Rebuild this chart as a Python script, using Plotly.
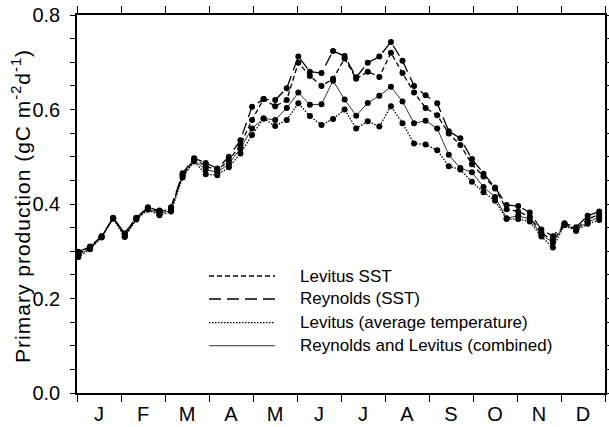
import plotly.graph_objects as go

# 8-day composite start days (day of year)
days = [1, 9, 17, 25, 33, 41, 49, 57, 65, 73, 81, 89, 97, 105, 113, 121, 129, 137,
        145, 153, 161, 169, 177, 185, 193, 201, 209, 217, 225, 233, 241, 249, 257,
        265, 273, 281, 289, 297, 305, 313, 321, 329, 337, 345, 353, 361]

months = ["J", "F", "M", "A", "M", "J", "J", "A", "S", "O", "N", "D"]

levitus_sst = [0.295, 0.308, 0.331, 0.370, 0.336, 0.370, 0.392, 0.383, 0.390, 0.462,
               0.495, 0.480, 0.472, 0.492, 0.525, 0.578, 0.622, 0.607, 0.620, 0.699,
               0.671, 0.650, 0.665, 0.708, 0.665, 0.680, 0.669, 0.720, 0.677, 0.636,
               0.603, 0.588, 0.549, 0.525, 0.484, 0.458, 0.433, 0.389, 0.384, 0.373,
               0.340, 0.322, 0.358, 0.347, 0.368, 0.378]

reynolds_sst = [0.299, 0.310, 0.332, 0.371, 0.338, 0.371, 0.393, 0.386, 0.393, 0.465,
                0.497, 0.487, 0.475, 0.500, 0.535, 0.606, 0.622, 0.620, 0.645, 0.712,
                0.680, 0.677, 0.724, 0.713, 0.668, 0.699, 0.712, 0.743, 0.703, 0.650,
                0.630, 0.613, 0.554, 0.539, 0.495, 0.464, 0.435, 0.398, 0.396, 0.382,
                0.346, 0.332, 0.359, 0.351, 0.375, 0.384]

levitus_avg = [0.288, 0.304, 0.329, 0.369, 0.330, 0.367, 0.388, 0.376, 0.384, 0.456,
               0.490, 0.463, 0.461, 0.478, 0.507, 0.546, 0.581, 0.565, 0.578, 0.613,
               0.586, 0.567, 0.580, 0.600, 0.560, 0.575, 0.564, 0.607, 0.571, 0.528,
               0.526, 0.514, 0.480, 0.473, 0.447, 0.425, 0.407, 0.368, 0.368, 0.363,
               0.331, 0.308, 0.355, 0.343, 0.358, 0.366]

combined = [0.293, 0.306, 0.330, 0.370, 0.332, 0.368, 0.390, 0.379, 0.387, 0.460,
            0.492, 0.473, 0.467, 0.485, 0.518, 0.560, 0.581, 0.578, 0.603, 0.636,
            0.610, 0.611, 0.661, 0.621, 0.587, 0.614, 0.629, 0.648, 0.617, 0.571,
            0.576, 0.560, 0.504, 0.476, 0.467, 0.436, 0.415, 0.370, 0.375, 0.368,
            0.336, 0.318, 0.356, 0.345, 0.362, 0.372]

series = [
    ("Levitus SST", levitus_sst, "5px,3px", 1.3),
    ("Reynolds (SST)", reynolds_sst, "12px,6px", 1.3),
    ("Levitus (average temperature)", levitus_avg, "1.5px,1.5px", 1.3),
    ("Reynolds and Levitus (combined)", combined, "solid", 0.8),
]

FONT = "Liberation Sans, Arial, Helvetica, sans-serif"
YEAR = 365.0
mlen = YEAR / 12

fig = go.Figure()
for name, vals, dash, w in series:
    fig.add_trace(go.Scatter(
        x=days, y=vals, mode="lines+markers", name=name,
        line=dict(color="black", width=w, dash=dash),
        marker=dict(color="black", size=6),
        showlegend=False,
    ))

# custom legend (line samples + text) in paper coordinates
leg_y = [0.3095, 0.2487, 0.1860, 0.1251]
for (name, vals, dash, w), yy in zip(series, leg_y):
    fig.add_shape(type="line", xref="paper", yref="paper",
                  x0=0.25, x1=0.375, y0=yy, y1=yy,
                  line=dict(color="black", width=w, dash=dash))
    fig.add_annotation(xref="paper", yref="paper", x=0.4186, y=yy,
                       text=name, showarrow=False, xanchor="left", yanchor="middle",
                       font=dict(family=FONT, size=17, color="black"))

# y-axis title as a rotated annotation for precise placement
fig.add_annotation(
    xref="paper", yref="paper", x=-0.106, y=0.495,
    text='<span style="letter-spacing:1px">Primary production (gC m<sup>-2</sup>d<sup>-1</sup>)</span>',
    textangle=-90, showarrow=False, xanchor="center", yanchor="middle",
    font=dict(family=FONT, size=21, color="black"),
)

fig.update_layout(
    width=609, height=427,
    margin=dict(l=77, r=4, t=15, b=34),
    paper_bgcolor="white", plot_bgcolor="white",
    font=dict(family=FONT, color="black"),
    showlegend=False,
)

fig.update_xaxes(
    range=[0, YEAR],
    automargin=False,
    tickmode="array",
    tickvals=[mlen * (k + 0.5) for k in range(12)],
    ticktext=months,
    ticks="",
    tickfont=dict(size=20, family=FONT),
    ticklabelstandoff=2,
    ticklabeloverflow="allow",
    showline=True, linecolor="black", linewidth=1.5, mirror="ticks",
    showgrid=False, zeroline=False,
    minor=dict(tickmode="array", tickvals=[mlen * k for k in range(13)],
               ticks="outside", ticklen=7, tickwidth=1, tickcolor="black",
               showgrid=False),
)

fig.update_yaxes(
    range=[0, 0.8],
    automargin=False,
    tickmode="array",
    tickvals=[0.0, 0.2, 0.4, 0.6, 0.8],
    ticktext=["0.0", "0.2", "0.4", "0.6", "0.8"],
    ticks="outside", ticklen=5, tickwidth=1, tickcolor="black",
    tickfont=dict(size=20, family=FONT),
    ticklabelstandoff=6,
    ticklabeloverflow="allow",
    showline=True, linecolor="black", linewidth=1.5, mirror="ticks",
    showgrid=False, zeroline=False,
    minor=dict(dtick=0.05, tick0=0, ticks="outside", ticklen=5, tickwidth=1,
               tickcolor="black", showgrid=False),
)

# remove the browser's default 8px page margin so the figure fills the window
fig.write_html("out.html", config={"displayModeBar": False},
               post_script="document.body.style.margin='0';")
